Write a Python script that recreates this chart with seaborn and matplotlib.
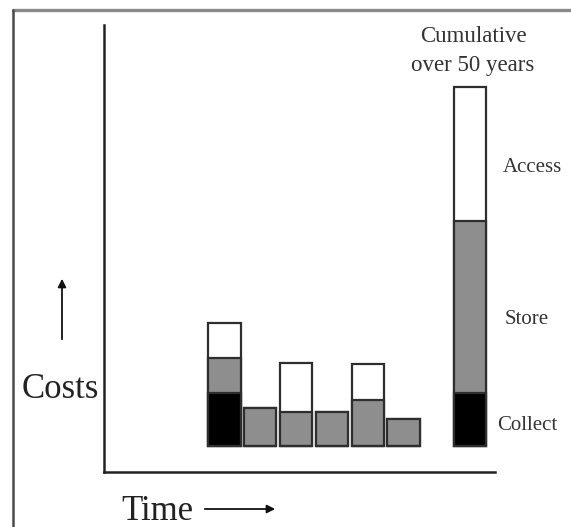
import numpy as np
import pandas as pd
import seaborn as sns
import matplotlib.pyplot as plt
from matplotlib.lines import Line2D

# Schematic costs per period (arbitrary units), stacked collect / store / access
periods = [1, 2, 3, 4, 5, 6]
collect = [53, 0, 0, 0, 0, 0]
store = [35, 38, 34, 34, 46, 27]
access = [35, 0, 49, 0, 36, 0]

# Cumulative bar over 50 years
cum_collect = 53
cum_store = 172
cum_access = 134
cum_pos = 7.86

segment_labels = ["Access", "Store", "Collect"]

sns.set_style("white")
plt.rcParams['font.family'] = ['Liberation Serif', 'DejaVu Serif']

W, H = 571, 527
fig = plt.figure(figsize=(W / 100, H / 100), dpi=100)
ax = fig.add_axes([104 / W, (H - 472) / H, (495 - 104) / W, (472 - 25) / H])

df = pd.DataFrame({
    "x": periods + [cum_pos],
    "collect": collect + [cum_collect],
    "store": store + [cum_store],
    "access": access + [cum_access],
})
df["top_store"] = df["collect"] + df["store"]
df["top_access"] = df["top_store"] + df["access"]

edge = "#2e2e2e"
# draw tallest layer first, then overlay lower segments
for col, color in [("top_access", "white"), ("top_store", "#8e8e8e"), ("collect", "black")]:
    sns.barplot(data=df, x="x", y=col, native_scale=True, color=color,
                edgecolor=edge, linewidth=1.6, width=0.9, errorbar=None,
                saturation=1, ax=ax)

ax.set_xlim(1 + (104 - 224.5) / 35.8, 1 + (495 - 224.5) / 35.8)
ax.set_ylim(-26, 421)
ax.set_xlabel("")
ax.set_ylabel("")
ax.set_xticks([])
ax.set_yticks([])
for s in ["top", "right"]:
    ax.spines[s].set_visible(False)
for s in ["left", "bottom"]:
    ax.spines[s].set_color("#222222")
    ax.spines[s].set_linewidth(1.8)

# outer frame (top and left edge of the original figure box)
fig.add_artist(Line2D([13 / W, 1], [1 - 10 / H, 1 - 10 / H], color="#8a8a8a", lw=2.4))
fig.add_artist(Line2D([13 / W, 13 / W], [0, 1 - 10 / H], color="#4a4a4a", lw=1.8))

def fx(px):
    return px / W

def fy(py):
    return 1 - py / H

fig.text(fx(473), fy(51), "Cumulative\nover 50 years", ha="center", va="center",
         fontsize=16.5, linespacing=1.5, color="#333333")
for lab, px, py in zip(segment_labels, [503, 505, 497], [167, 320, 425]):
    fig.text(fx(px), fy(py), lab, ha="left", va="center", fontsize=15, color="#333333")

fig.text(fx(60), fy(390), "Costs", ha="center", va="center", fontsize=25, color="#222222")
fig.text(fx(157), fy(511), "Time", ha="center", va="center", fontsize=25, color="#222222")

fig.add_artist(plt.Annotation("", xy=(fx(62), fy(276)), xytext=(fx(62), fy(342)),
                              xycoords="figure fraction",
                              arrowprops=dict(arrowstyle="-|>", color="#111111", lw=1.3,
                                              mutation_scale=12)))
fig.add_artist(plt.Annotation("", xy=(fx(278), fy(509)), xytext=(fx(202), fy(509)),
                              xycoords="figure fraction",
                              arrowprops=dict(arrowstyle="-|>", color="#111111", lw=1.3,
                                              mutation_scale=12)))

fig.savefig("out.png", dpi=100)
